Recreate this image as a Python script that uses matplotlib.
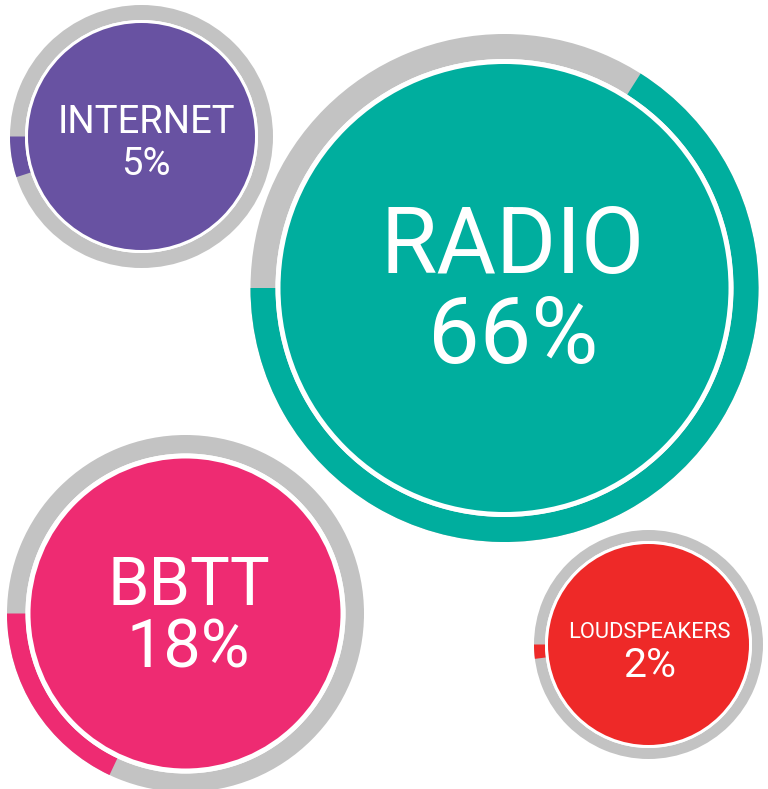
import matplotlib
matplotlib.use("Agg")
import matplotlib.pyplot as plt
from matplotlib.patches import Wedge, Circle

# ---- data ----
labels = ["INTERNET", "RADIO", "BBTT", "LOUDSPEAKERS"]
percents = [5, 66, 18, 2]
colors = ["#6852A2", "#00AE9E", "#EE2B72", "#EE2928"]
ring_gray = "#C3C3C3"

# ---- layout (pixel space, y downward) ----
centers = [(141.5, 136.5), (504.5, 288.0), (185.5, 613.5), (648.5, 644.5)]
radii = [131.5, 254.0, 178.5, 114.5]
ring_w = [15, 25, 18.5, 11]
gap_w = [3, 5, 5, 3]
text_x = [146, 513, 188.5, 649.5]
label_base = [133, 273, 605, 638]
pct_base = [175, 363, 668, 677]
label_size = [27.5, 66, 48, 15.8]
pct_size = [27.5, 66, 48, 29.5]

W, H, DPI = 768, 789, 100
fig = plt.figure(figsize=(W / DPI, H / DPI), dpi=DPI)
ax = fig.add_axes([0, 0, 1, 1])
ax.set_xlim(0, W)
ax.set_ylim(H, 0)
ax.set_aspect("equal")
ax.axis("off")

font = dict(family=["Roboto", "DejaVu Sans"], weight="normal", color="white",
            ha="center", va="baseline")

for lab, p, col, (cx, cy), R, w, g, tx, lb, pb, ls, ps in zip(
        labels, percents, colors, centers, radii, ring_w, gap_w,
        text_x, label_base, pct_base, label_size, pct_size):
    # full gray ring
    ax.add_patch(Wedge((cx, cy), R, 0, 360, width=w, facecolor=ring_gray,
                       edgecolor="none"))
    # coloured share, starting at 9 o'clock, running down/anticlockwise on screen
    ax.add_patch(Wedge((cx, cy), R, 180 - 3.6 * p, 180, width=w,
                       facecolor=col, edgecolor="none"))
    # white separator and inner disc
    ax.add_patch(Circle((cx, cy), R - w, facecolor="white", edgecolor="none"))
    ax.add_patch(Circle((cx, cy), R - w - g, facecolor=col, edgecolor="none"))
    ax.text(tx, lb, lab, fontsize=ls, **font)
    ax.text(tx, pb, f"{p}%", fontsize=ps, **font)

fig.savefig("out.png", dpi=DPI, facecolor="white")
